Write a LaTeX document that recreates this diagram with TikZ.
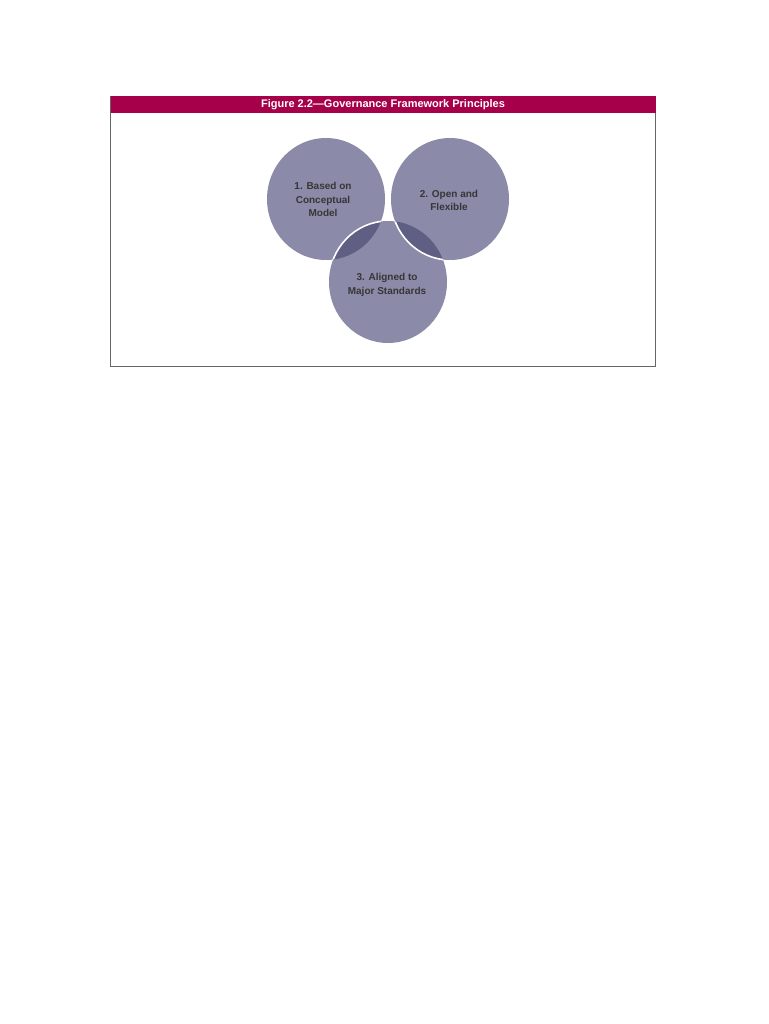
\documentclass[tikz,border=0pt]{standalone}
\usepackage{fontspec}
\setmainfont{Liberation Sans}
\usetikzlibrary{positioning}

\definecolor{isacared}{HTML}{A6004A}
\definecolor{bubblefill}{HTML}{8B8AA8}
\definecolor{overlapfill}{HTML}{5F5E83}
\definecolor{labelgray}{HTML}{363636}
\definecolor{framegray}{HTML}{666666}

\tikzset{
  bubble/.style={fill=bubblefill},
  rim/.style={draw=white, line width=1.6pt},
  bubble text/.style={align=center, font=\fontsize{10}{13.5}\selectfont\bfseries, text=labelgray}
}

\begin{document}
\begin{tikzpicture}[x=1pt, y=-1pt]

\useasboundingbox (0,0) rectangle (768,1024);

% Frame and title bar
\draw [framegray, line width=0.9pt] (110.5,96.5) rectangle (655.5,366.5);
\fill [isacared] (110.5,96.5) rectangle (655.5,113);
\node [font=\fontsize{11}{13}\selectfont\bfseries, text=white] (title) at (383,104.8)
  {Figure 2.2\textemdash Governance Framework Principles};

% Centres of the three principles
\coordinate (based-c) at (326,199);
\coordinate (open-c) at (450,199);
\coordinate (aligned-c) at (388,282);

% Circles
\foreach \c in {based-c, open-c, aligned-c}
  \fill [bubble] (\c) ellipse [x radius=59, y radius=61];

% Overlapping regions
\foreach \c in {based-c, open-c} {
  \begin{scope}
    \clip (\c) ellipse [x radius=59, y radius=61];
    \fill [overlapfill] (aligned-c) ellipse [x radius=59, y radius=61];
  \end{scope}
}

% White rims
\begin{scope}
  \clip (based-c) ellipse [x radius=59, y radius=61];
  \draw [rim] (aligned-c) ellipse [x radius=59, y radius=61];
\end{scope}
\begin{scope}
  \clip (aligned-c) ellipse [x radius=59, y radius=61];
  \draw [rim] (open-c) ellipse [x radius=59, y radius=61];
\end{scope}

% Labels
\node [bubble text] (based) at (323,199.5) {1. Based on\\Conceptual\\Model};
\node [bubble text] (open) at (449,200.5) {2. Open and\\Flexible};
\node [bubble text] (aligned) at (387,285) {3. Aligned to\\Major Standards};

\end{tikzpicture}
\end{document}
